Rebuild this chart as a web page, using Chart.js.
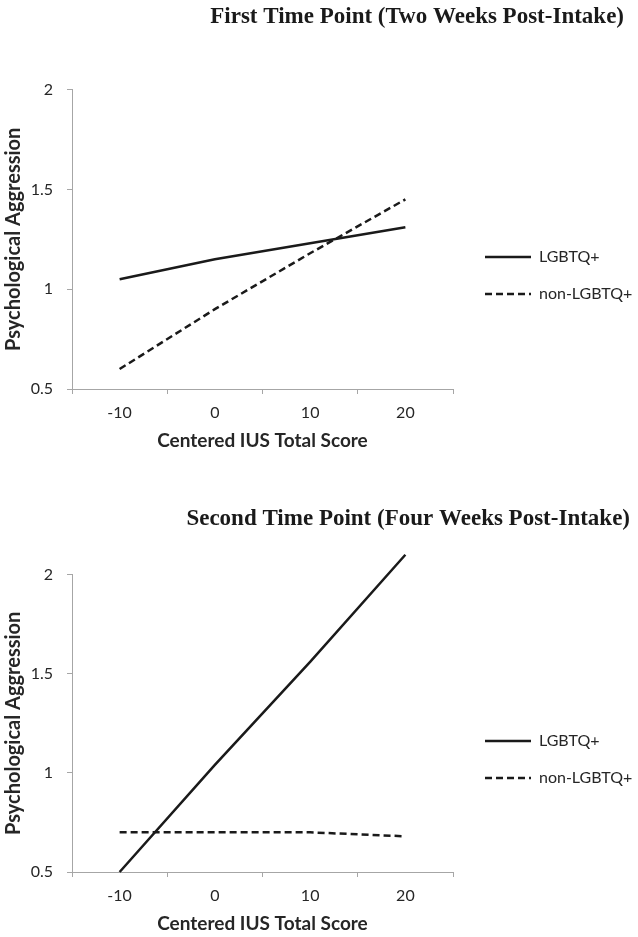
<!DOCTYPE html>
<html>
<head>
<meta charset="utf-8">
<script src="https://cdn.jsdelivr.net/npm/chart.js@4.4.1/dist/chart.umd.min.js"></script>
<style>
  html, body { margin: 0; padding: 0; background: #fff; }
  #page { position: relative; width: 638px; height: 937px; }
  .box { position: absolute; left: 0; width: 638px; }
</style>
</head>
<body>
<div id="page">
  <div class="box" style="top:0;height:454px"><canvas id="first"></canvas></div>
  <div class="box" style="top:470px;height:467px"><canvas id="second"></canvas></div>
</div>
<script>
// x categories (centered IUS total score)
const iusLabels = ['-10', '0', '10', '20'];

// first time point (two weeks post-intake)
const t1Lgbtq = [1.05, 1.15, 1.23, 1.31];
const t1NonLgbtq = [0.60, 0.90, 1.18, 1.45];

// second time point (four weeks post-intake)
const t2Lgbtq = [0.50, 1.04, 1.56, 2.10];
const t2NonLgbtq = [0.70, 0.70, 0.70, 0.68];

const yTicks = [0.5, 1, 1.5, 2];

const axisGrey = '#a6a6a6';
const inkColor = '#262626';

// pushes the legend to the right spot next to the plot
const legendNudge = {
  id: 'legendNudge',
  afterLayout(chart, args, opts) {
    const lg = chart.legend;
    if (!lg) return;
    lg.left += opts.dx; lg.right += opts.dx;
    lg.top += opts.dy; lg.bottom += opts.dy;
  }
};

function legendItems(chart) {
  const items = Chart.defaults.plugins.legend.labels.generateLabels(chart);
  items.forEach(it => {
    const ds = chart.data.datasets[it.datasetIndex];
    it.lineDash = ds.borderDash || [];
    it.lineWidth = ds.borderWidth;
    it.strokeStyle = ds.borderColor;
  });
  return items;
}

function makeChart(id, titleText, lgbtq, nonLgbtq, titlePad, padRight, legendDy) {
  const ctx = document.getElementById(id).getContext('2d');
  return new Chart(ctx, {
    type: 'line',
    data: {
      labels: iusLabels,
      datasets: [{
        label: 'LGBTQ+',
        data: lgbtq,
        borderColor: '#1a1a1a',
        backgroundColor: '#1a1a1a',
        borderWidth: 2.5,
        pointRadius: 0,
        tension: 0,
        clip: false
      }, {
        label: 'non-LGBTQ+',
        data: nonLgbtq,
        borderColor: '#1a1a1a',
        backgroundColor: '#1a1a1a',
        borderWidth: 2.5,
        borderDash: [7, 4],
        pointRadius: 0,
        tension: 0,
        clip: false
      }]
    },
    options: {
      responsive: true,
      maintainAspectRatio: false,
      animation: false,
      layout: { padding: { left: 0, top: 0, bottom: 0, right: padRight } },
      plugins: {
        title: {
          display: true,
          text: titleText,
          align: 'end',
          color: '#1a1a1a',
          font: { family: '"Liberation Serif", serif', size: 23, weight: 'bold' },
          padding: titlePad
        },
        legend: {
          position: 'right',
          align: 'start',
          maxWidth: 185 - padRight,
          labels: {
            usePointStyle: true,
            pointStyle: 'line',
            pointStyleWidth: 46,
            padding: 21,
            color: inkColor,
            font: { family: 'Lato, sans-serif', size: 16 },
            generateLabels: legendItems
          }
        },
        legendNudge: { dx: 11, dy: legendDy },
        tooltip: { enabled: false }
      },
      scales: {
        x: {
          type: 'category',
          offset: true,
          grid: {
            offset: true,
            drawOnChartArea: false,
            tickLength: 5,
            color: axisGrey
          },
          border: { color: axisGrey, width: 1 },
          ticks: {
            color: inkColor,
            padding: 9,
            font: { family: 'Lato, sans-serif', size: 16 }
          },
          title: {
            display: true,
            text: 'Centered IUS Total Score',
            color: inkColor,
            font: { family: 'Lato, sans-serif', size: 19, weight: 'bold' },
            padding: { top: 6, bottom: 2 }
          },
          afterFit: s => { s.height = 65; }
        },
        y: {
          min: 0.5,
          max: 2,
          afterBuildTicks: s => { s.ticks = yTicks.map(v => ({ value: v })); },
          grid: {
            drawOnChartArea: false,
            tickLength: 5,
            color: axisGrey
          },
          border: { color: axisGrey, width: 1 },
          ticks: {
            color: inkColor,
            padding: 14,
            font: { family: 'Lato, sans-serif', size: 16 },
            callback: v => String(v)
          },
          title: {
            display: true,
            text: 'Psychological Aggression',
            color: inkColor,
            font: { family: 'Lato, sans-serif', size: 20, weight: 'bold' },
            padding: { top: 2, bottom: 4 }
          },
          afterFit: s => { s.width = 72; }
        }
      }
    },
    plugins: [legendNudge]
  });
}

makeChart('first', 'First Time Point (Two Weeks Post-Intake)', t1Lgbtq, t1NonLgbtq,
  { top: 3, bottom: 59 }, 14, 228);
makeChart('second', 'Second Time Point (Four Weeks Post-Intake)', t2Lgbtq, t2NonLgbtq,
  { top: 35, bottom: 42 }, 8, 242);
</script>
</body>
</html>
